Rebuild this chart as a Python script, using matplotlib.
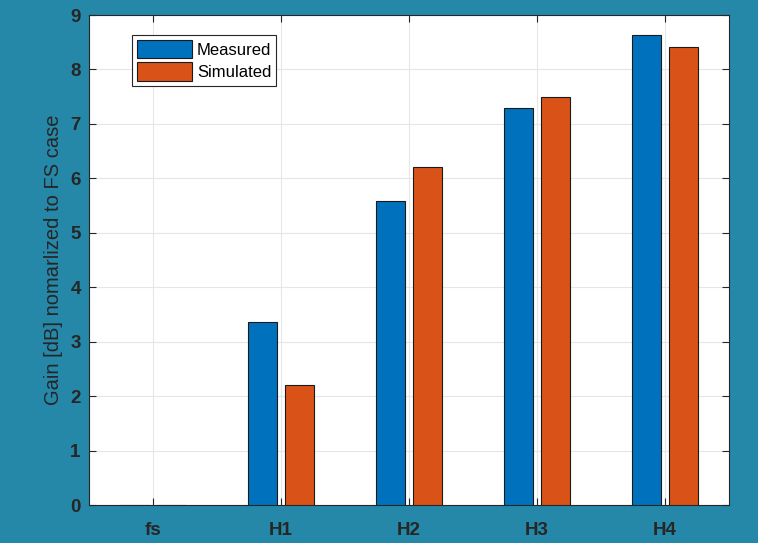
import matplotlib
matplotlib.use("Agg")
import matplotlib.pyplot as plt
import numpy as np

categories = ["fs", "H1", "H2", "H3", "H4"]
measured = [0.0, 3.37, 5.58, 7.30, 8.63]
simulated = [0.0, 2.21, 6.21, 7.50, 8.41]

bg = "#2588A9"
blue = "#0072BD"
orange = "#D95319"
txt = "#262626"

plt.rcParams['font.family'] = ['Liberation Sans', 'DejaVu Sans']

fig = plt.figure(figsize=(7.58, 5.43), dpi=100, facecolor=bg)
ax = fig.add_axes([89/758, 1 - 505/543, 640/758, 490/543])
ax.set_facecolor("white")

x = np.arange(1, len(categories) + 1)
off = 0.145
w = 0.23
ax.bar(x - off, measured, w, color=blue, edgecolor="#1a1a1a", linewidth=0.8, label="Measured", zorder=3)
ax.bar(x + off, simulated, w, color=orange, edgecolor="#1a1a1a", linewidth=0.8, label="Simulated", zorder=3)

ax.set_xlim(0.5, 5.5)
ax.set_ylim(0, 9)
ax.set_xticks(x)
ax.set_xticklabels(categories)
ax.set_yticks(range(0, 10))
ax.grid(True, color="#e6e6e6", linewidth=0.8, zorder=0)
ax.set_axisbelow(True)
ax.tick_params(direction="in", top=True, right=True, length=5, color="#262626",
               labelsize=13.5, labelcolor=txt, pad=6)
for lab in ax.get_xticklabels() + ax.get_yticklabels():
    lab.set_fontweight("bold")
ax.tick_params(axis="x", pad=12)
for s in ax.spines.values():
    s.set_color("#262626")
    s.set_linewidth(0.8)

ax.set_ylabel("Gain [dB] nomarlized to FS case", fontsize=14.5, color=txt, labelpad=5)

leg = ax.legend(loc="upper left", bbox_to_anchor=(43/640, 1 - 20/490), fontsize=12,
                frameon=True, fancybox=False, edgecolor="#262626", framealpha=1,
                handlelength=3.3, handleheight=1.3, borderpad=0.3, labelspacing=0.25,
                handletextpad=0.3, borderaxespad=0)
leg.get_frame().set_linewidth(0.8)

fig.savefig("out.png", dpi=100, facecolor=bg)
